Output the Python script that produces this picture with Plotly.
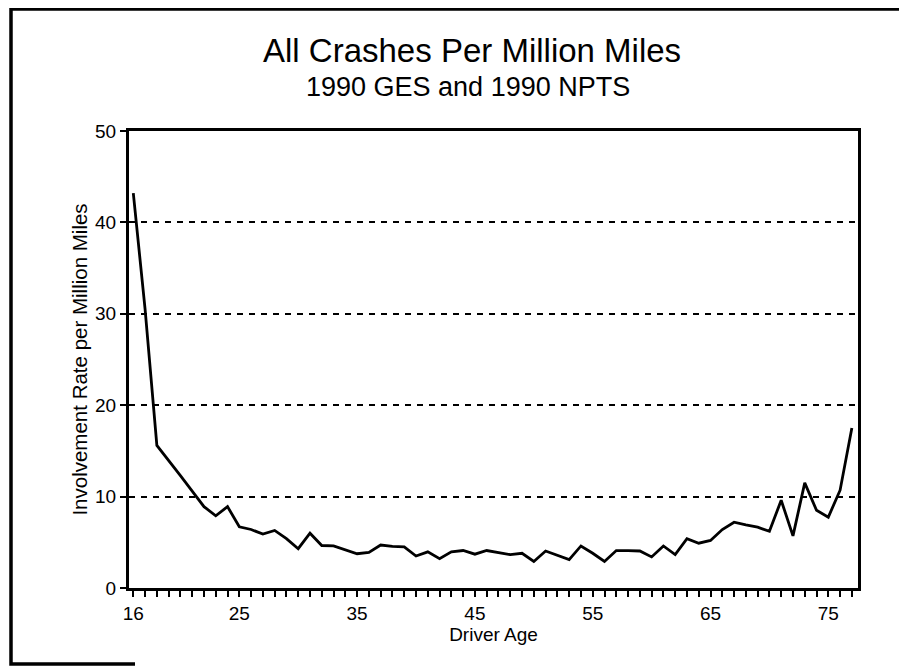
import plotly.graph_objects as go

ages = list(range(16, 78))
rates = [43.2, 30.5, 15.6, 14.0, 12.3, 10.6, 8.9, 7.9, 8.9, 6.7,
         6.4, 5.9, 6.3, 5.4, 4.3, 6.0, 4.65, 4.6, 4.2, 3.75,
         3.9, 4.7, 4.55, 4.5, 3.5, 3.95, 3.2, 3.95, 4.1, 3.7,
         4.1, 3.85, 3.65, 3.8, 2.9, 4.05, 3.55, 3.1, 4.6, 3.8,
         2.9, 4.1, 4.1, 4.05, 3.4, 4.6, 3.65, 5.4, 4.9, 5.2,
         6.4, 7.2, 6.9, 6.65, 6.2, 9.6, 5.7, 11.5, 8.5, 7.75,
         10.7, 17.5]
x_tick_vals = [16, 25, 35, 45, 55, 65, 75]
x_tick_text = ["16", "25", "35", "45", "55", "65", "75"]
y_tick_vals = [0, 10, 20, 30, 40, 50]

title_text = "All Crashes Per Million Miles"
subtitle_text = "1990 GES and 1990 NPTS"
x_title = "Driver Age"
y_title = "Involvement Rate per Million Miles"

# page has an 8px body margin: draw the figure 8px smaller and shifted
OFF = 8
W, H = 907 - OFF, 668 - OFF
L, T = 129 - OFF, 131 - OFF
R = W - (858 - OFF)
B = H - (588 - OFF)
PW, PH = W - L - R, H - T - B


def px(x):
    return (x - OFF - L) / PW


def py(y):
    return (H - B - (y - OFF)) / PH


FONT = "Liberation Sans, Arial, Helvetica, sans-serif"

fig = go.Figure()
fig.add_trace(go.Scatter(x=ages, y=rates, mode="lines",
                         line=dict(color="black", width=2.8),
                         showlegend=False, hoverinfo="skip"))

fig.update_layout(
    width=W, height=H,
    margin=dict(l=L, r=R, t=T, b=B, pad=0),
    paper_bgcolor="white", plot_bgcolor="white",
    font=dict(family=FONT, color="black", size=19),
    xaxis=dict(
        range=[15.635, 77.52], showgrid=False, zeroline=False,
        showline=True, linecolor="black", linewidth=3, mirror=True,
        tickmode="array", tickvals=x_tick_vals, ticktext=x_tick_text,
        ticks="outside", ticklen=6, tickwidth=2, tickcolor="black",
        minor=dict(ticks="outside", dtick=1, tick0=16, ticklen=6,
                   tickwidth=2, tickcolor="black", showgrid=False),
        tickfont=dict(size=19, family=FONT),
        title=dict(text=x_title, font=dict(size=19, family=FONT), standoff=4),
    ),
    yaxis=dict(
        range=[0, 50], zeroline=False,
        showline=True, linecolor="black", linewidth=3, mirror=True,
        tickmode="array", tickvals=y_tick_vals,
        ticks="outside", ticklen=6, tickwidth=2, tickcolor="black",
        showgrid=True, gridcolor="black", gridwidth=2, griddash="6px,6px",
        tickfont=dict(size=19, family=FONT),
        title=dict(text=y_title, font=dict(size=20.5, family=FONT), standoff=2),
    ),
    annotations=[
        dict(text=title_text, x=px(472), y=py(50), xref="paper", yref="paper",
             xanchor="center", yanchor="middle", showarrow=False,
             font=dict(size=33, family=FONT)),
        dict(text=subtitle_text, x=px(468), y=py(87), xref="paper", yref="paper",
             xanchor="center", yanchor="middle", showarrow=False,
             font=dict(size=27, family=FONT)),
    ],
    shapes=[
        dict(type="path", xref="paper", yref="paper",
             path=(f"M {px(135)},{py(664)} L {px(11)},{py(664)} "
                   f"L {px(11)},{py(9)} L {px(907)},{py(9)}"),
             line=dict(color="black", width=3.5)),
    ],
)

fig.write_html("out.html")
